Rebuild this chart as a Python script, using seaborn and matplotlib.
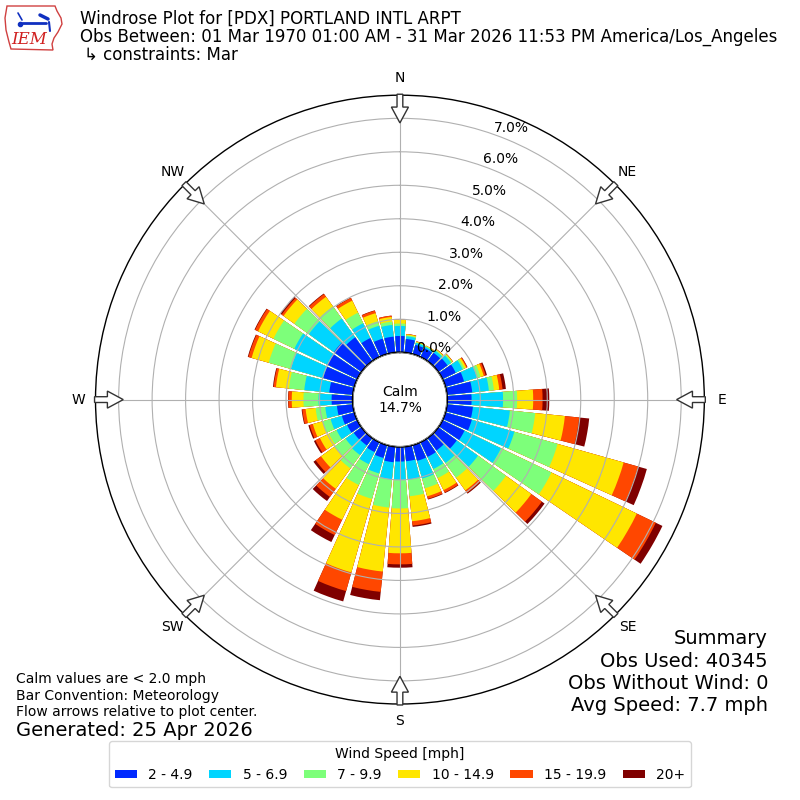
""" Windrose plot for PDX (March), redrawn with seaborn/matplotlib.
"""

import numpy as np
import seaborn as sns
import matplotlib.pyplot as plt
from matplotlib.patches import Patch, Circle, FancyArrow, Polygon

# Direction (deg, meteorological) and percent of obs per speed bin
directions = list(range(0, 360, 10))

speed_labels = ['2 - 4.9', '5 - 6.9', '7 - 9.9', '10 - 14.9', '15 - 19.9', '20+']

pct_2_5 = [0.50, 0.42, 0.30, 0.30, 0.32, 0.35, 0.45, 0.59, 0.77,
           0.74, 0.79, 0.83, 0.74, 0.69, 0.47, 0.50, 0.50, 0.45,
           0.45, 0.48, 0.41, 0.34, 0.29, 0.30, 0.35, 0.40, 0.49,
           0.64, 0.72, 0.98, 1.00, 1.03, 0.89, 0.64, 0.49, 0.49]
pct_5_7 = [0.30, 0.08, 0.06, 0.05, 0.08, 0.13, 0.23, 0.40, 0.50,
           0.94, 1.11, 1.32, 1.21, 0.78, 0.46, 0.40, 0.55, 0.55,
           0.55, 0.51, 0.48, 0.40, 0.35, 0.30, 0.35, 0.35, 0.35,
           0.39, 0.75, 1.00, 1.10, 0.92, 0.69, 0.49, 0.40, 0.35]
pct_7_10 = [0.07, 0.03, 0.02, 0.02, 0.03, 0.04, 0.06, 0.11, 0.15,
            0.42, 0.76, 1.34, 1.67, 1.03, 0.54, 0.30, 0.30, 0.50,
            0.85, 0.85, 0.79, 0.69, 0.49, 0.40, 0.25, 0.25, 0.29,
            0.45, 0.46, 0.69, 0.69, 0.53, 0.45, 0.35, 0.14, 0.10]
pct_10_15 = [0.12, 0.03, 0.02, 0.02, 0.02, 0.02, 0.06, 0.10, 0.16,
             0.48, 0.89, 2.05, 2.83, 0.93, 0.47, 0.40, 0.25, 0.75,
             1.34, 1.92, 2.28, 1.15, 0.75, 0.50, 0.30, 0.30, 0.30,
             0.35, 0.39, 0.53, 0.51, 0.40, 0.35, 0.40, 0.25, 0.14]
pct_15_20 = [0.01, 0.01, 0.01, 0.00, 0.01, 0.01, 0.03, 0.06, 0.10,
             0.28, 0.43, 0.45, 0.63, 0.39, 0.09, 0.08, 0.08, 0.13,
             0.33, 0.61, 0.58, 0.51, 0.30, 0.20, 0.15, 0.10, 0.10,
             0.10, 0.07, 0.10, 0.10, 0.07, 0.10, 0.09, 0.08, 0.04]
pct_20_up = [0.00, 0.00, 0.00, 0.00, 0.00, 0.00, 0.01, 0.04, 0.10,
             0.20, 0.30, 0.27, 0.22, 0.10, 0.03, 0.02, 0.02, 0.04,
             0.10, 0.25, 0.32, 0.23, 0.15, 0.08, 0.05, 0.04, 0.02,
             0.01, 0.02, 0.02, 0.02, 0.05, 0.02, 0.01, 0.01, 0.00]

calm_pct = 14.7
r_ticks = [0, 1, 2, 3, 4, 5, 6, 7]
compass = ['N', 'NE', 'E', 'SE', 'S', 'SW', 'W', 'NW']

bins = [pct_2_5, pct_5_7, pct_7_10, pct_10_15, pct_15_20, pct_20_up]

sns.set_style('white')
plt.rcParams['font.family'] = ['DejaVu Sans']
plt.rcParams['text.color'] = 'black'
plt.rcParams['xtick.color'] = 'black'
plt.rcParams['ytick.color'] = 'black'

# jet colormap sampled at 1/6 .. 6/6
jet = plt.get_cmap('jet')
palette = sns.color_palette([jet(i / 6.0) for i in range(1, 7)])

fig = plt.figure(figsize=(8, 8), dpi=100)
ax = fig.add_axes([0.1194, 0.12, 0.761, 0.761], projection='polar')
ax.set_theta_zero_location('N')
ax.set_theta_direction(-1)
ax.set_axisbelow(False)

theta = np.deg2rad(directions)
width = np.deg2rad(8.6)
cumulative = np.cumsum(np.array(bins), axis=0)

# draw biggest first so smaller stacks sit on top
for i in range(len(bins) - 1, -1, -1):
    ax.bar(theta, cumulative[i], width=width, bottom=0.0,
           color=palette[i], linewidth=0, zorder=1)

ax.set_ylim(0, 7.69)
ax.set_rorigin(-1.40)

ax.set_yticks(r_ticks)
ax.set_yticklabels([f'{t:.1f}%' for t in r_ticks], fontsize=10, color='black')
ax.set_rlabel_position(19.6)
ax.set_xticks(np.deg2rad(range(0, 360, 45)))
ax.set_xticklabels(compass, fontsize=10, color='black')
ax.tick_params(axis='x', pad=2)
ax.grid(True, color='#b0b0b0', linewidth=0.8)
ax.spines['polar'].set_color('black')
ax.spines['polar'].set_linewidth(1.0)

# calm circle
calm = Circle((0.5, 0.5), 47.5 / 609, transform=ax.transAxes,
              facecolor='white', edgecolor='black', linewidth=1, zorder=3)
ax.add_patch(calm)
ax.text(0.5, 0.5, f'Calm\n{calm_pct:.1f}%', transform=ax.transAxes,
        ha='center', va='center', fontsize=10, zorder=4)

# hollow flow arrows on the rim
r_tail = 0.5016
r_tip = 0.4545
for d in range(0, 360, 45):
    s, c = np.sin(np.deg2rad(d)), np.cos(np.deg2rad(d))
    arr = FancyArrow(0.5 + r_tail * s, 0.5 + r_tail * c,
                     (r_tip - r_tail) * s, (r_tip - r_tail) * c,
                     width=0.0095, head_width=0.028, head_length=0.026,
                     length_includes_head=True, facecolor='white',
                     edgecolor='#333333', linewidth=1.0,
                     transform=ax.transAxes, clip_on=False, zorder=6)
    ax.add_patch(arr)

# header
fig.text(80 / 800, 1 - 19 / 800, 'Windrose Plot for [PDX] PORTLAND INTL ARPT',
         fontsize=12, va='center', ha='left')
fig.text(80 / 800, 1 - 37 / 800,
         'Obs Between: 01 Mar 1970 01:00 AM - 31 Mar 2026 11:53 PM America/Los_Angeles',
         fontsize=12, va='center', ha='left')
fig.text(84 / 800, 1 - 55 / 800, '\u21b3 constraints: Mar',
         fontsize=12, va='center', ha='left')

# rough IEM logo
logo = fig.add_axes([0, 1 - 60 / 800, 75 / 800, 60 / 800])
logo.set_xlim(0, 75)
logo.set_ylim(60, 0)
logo.axis('off')
outline = [(7, 6), (55, 6), (57, 11), (61, 18), (62, 24), (58, 32),
           (54, 38), (52, 44), (53, 50), (11, 49), (9, 42), (6, 30),
           (5, 18), (7, 6)]
logo.add_patch(Polygon(outline, closed=True, fill=False,
                       edgecolor='#d04040', linewidth=1))
logo.plot([22, 46], [23, 23], color='#1030c0', linewidth=2)
logo.plot([18, 22], [13, 20], color='#1030c0', linewidth=1.2)
logo.plot([40, 48], [15, 19], color='#1030c0', linewidth=2.5)
logo.plot([49, 50], [22, 31], color='#1030c0', linewidth=1.5)
logo.plot([20], [24], marker='o', color='#1030c0', markersize=3)
logo.text(29, 40, 'IEM', color='#d02020', fontsize=12, fontstyle='italic',
          family='DejaVu Serif', ha='center', va='center')

# footer notes
fig.text(16 / 800, 1 - 679 / 800, 'Calm values are < 2.0 mph', fontsize=10, va='center')
fig.text(16 / 800, 1 - 696 / 800, 'Bar Convention: Meteorology', fontsize=10, va='center')
fig.text(16 / 800, 1 - 712 / 800, 'Flow arrows relative to plot center.', fontsize=10, va='center')
fig.text(16 / 800, 1 - 730 / 800, 'Generated: 25 Apr 2026', fontsize=14, va='center')

summary = ['Summary', 'Obs Used: 40345', 'Obs Without Wind: 0', 'Avg Speed: 7.7 mph']
for k, line in enumerate(summary):
    fig.text(768 / 800, 1 - (639 + 22.3 * k) / 800, line, fontsize=14,
             ha='right', va='center')

handles = [Patch(facecolor=palette[i], edgecolor='none', label=speed_labels[i])
           for i in range(len(speed_labels))]
fig.legend(handles=handles, loc='lower center', bbox_to_anchor=(0.5, 0.007),
           ncol=6, fontsize=10, title='Wind Speed [mph]', title_fontsize=10,
           handlelength=1.6, handleheight=0.6, columnspacing=1.2,
           frameon=True, edgecolor='#cccccc')

fig.savefig('out.png', dpi=100)
